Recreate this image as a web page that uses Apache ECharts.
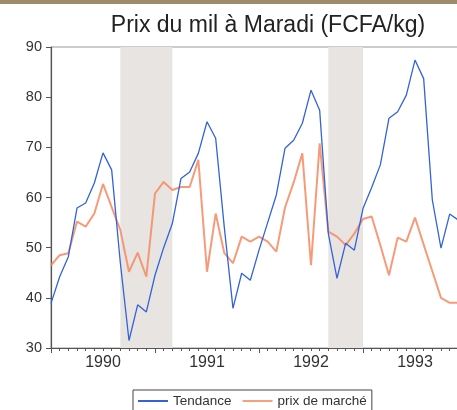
<!DOCTYPE html>
<html>
<head>
<meta charset="utf-8">
<title>Prix du mil à Maradi</title>
<script src="https://cdn.jsdelivr.net/npm/echarts@6.0.0/dist/echarts.min.js"></script>
<style>
    html, body { margin: 0; padding: 0; background: #fff; }
    #chart { width: 457px; height: 410px; }
</style>
</head>
<body>
<div id="chart"></div>
<script>
    // un point par mois, 0 = janvier 1990
    var yearLabels = ['1990', '1991', '1992', '1993'];
    var tendance = [
        38.9, 44.2, 48.2, 57.9, 58.9, 62.9, 68.9, 65.5, 47.0, 31.5, 38.6, 37.2,
        44.5, 50.0, 54.8, 63.8, 65.1, 68.8, 75.1, 71.8, 54.0, 37.9, 44.9, 43.5,
        49.5, 55.0, 60.5, 69.8, 71.4, 74.8, 81.4, 77.4, 52.8, 43.9, 50.9, 49.5,
        57.8, 62.0, 66.5, 75.8, 77.1, 80.4, 87.4, 83.7, 59.5, 49.9, 56.7, 55.5
    ];
    var prixMarche = [
        46.5, 48.5, 48.9, 55.2, 54.2, 56.8, 62.7, 58.1, 53.5, 45.2, 49.0, 44.2,
        60.8, 63.1, 61.5, 62.1, 62.1, 67.5, 45.2, 56.8, 48.9, 46.9, 52.2, 51.2,
        52.2, 51.2, 49.2, 58.0, 63.0, 68.8, 46.5, 70.8, 53.2, 52.2, 50.5, 52.8,
        55.7, 56.2, 50.5, 44.5, 52.0, 51.2, 56.0, 50.6, 45.3, 40.0, 39.0, 39.0
    ];
    // periodes grisees (mois debut, mois fin)
    var shaded = [[8, 14], [32, 36]];

    function toPoints(arr) {
        return arr.map(function (v, i) { return [i, v]; });
    }

    var myChart = echarts.init(document.getElementById('chart'));
    var font = 'Liberation Sans, Arial, sans-serif';

    var option = {
        animation: false,
        backgroundColor: '#fff',
        graphic: [{
            type: 'rect',
            shape: { x: 0, y: 0, width: 457, height: 4 },
            style: { fill: '#9e8c6c' }
        }],
        title: {
            text: 'Prix du mil à Maradi (FCFA/kg)',
            left: 263,
            textAlign: 'center',
            top: 9,
            textStyle: { fontSize: 23, fontWeight: 'normal', color: '#222', fontFamily: font }
        },
        grid: {
            left: 51, top: 47, right: -10, bottom: 62,
            show: true, borderColor: '#999', borderWidth: 1,
            outerBoundsMode: 'none'
        },
        legend: {
            data: ['Tendance', 'prix de marché'],
            left: 133, top: 390,
            padding: [4, 5, 6, 5],
            icon: 'rect',
            itemGap: 11, itemWidth: 30, itemHeight: 2,
            borderColor: '#444', borderWidth: 1,
            textStyle: { fontSize: 13.5, color: '#333', fontFamily: font }
        },
        xAxis: [
            {
                type: 'value', min: 0, max: 48, interval: 12,
                axisLine: { lineStyle: { color: '#555', width: 1.2 } },
                axisTick: { show: true, length: 5, lineStyle: { color: '#555' } },
                minorTick: { show: true, splitNumber: 12, length: 3, lineStyle: { color: '#555' } },
                axisLabel: { show: false },
                splitLine: { show: false }
            },
            {
                // etiquettes des annees au milieu de chaque annee
                type: 'value', min: -6, max: 42, interval: 6, position: 'bottom',
                axisLine: { show: false },
                axisTick: { show: false },
                splitLine: { show: false },
                axisLabel: {
                    margin: 7, fontSize: 16, color: '#333', fontFamily: font,
                    formatter: function (v) {
                        return (v >= 0 && v % 12 === 0) ? yearLabels[v / 12] : '';
                    }
                }
            }
        ],
        yAxis: {
            type: 'value', min: 30, max: 90, interval: 10,
            axisLine: { show: true, lineStyle: { color: '#555', width: 1.2 } },
            axisTick: { show: true, length: 5, lineStyle: { color: '#555' } },
            axisLabel: { margin: 9, fontSize: 14.5, color: '#333', fontFamily: font },
            splitLine: { show: false }
        },
        series: [
            {
                name: 'prix de marché',
                type: 'line',
                xAxisIndex: 0,
                data: toPoints(prixMarche),
                symbol: 'none',
                lineStyle: { color: '#f58a60', width: 2, opacity: 0.85 },
                itemStyle: { color: '#f7a07c' },
                markArea: {
                    silent: true,
                    itemStyle: { color: '#e7e4e2' },
                    data: shaded.map(function (s) { return [{ xAxis: s[0] }, { xAxis: s[1] }]; })
                }
            },
            {
                name: 'Tendance',
                type: 'line',
                xAxisIndex: 0,
                data: toPoints(tendance),
                symbol: 'none',
                lineStyle: { color: '#3363d6', width: 1.3 },
                itemStyle: { color: '#3363d6' }
            }
        ]
    };
    myChart.setOption(option);
</script>
</body>
</html>
